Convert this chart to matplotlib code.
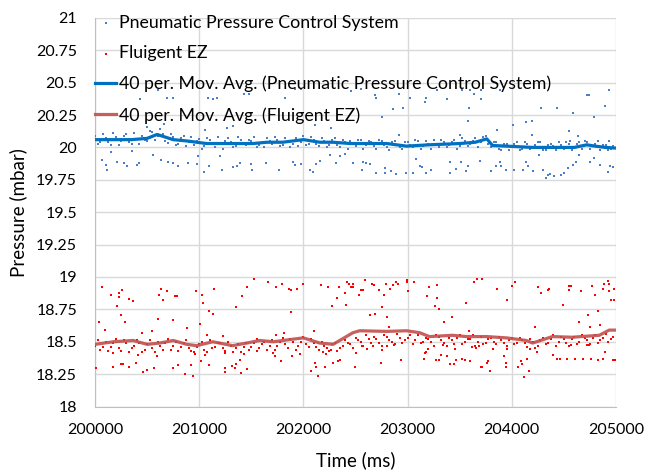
import numpy as np
import matplotlib
matplotlib.use("Agg")
import matplotlib.pyplot as plt
from matplotlib.ticker import FuncFormatter, MultipleLocator

# ---- data (time in ms, pressure in mbar) ----
# Pneumatic system: points well away from the dense band
blue_out_t = [200607, 200431, 200693, 200751, 200661, 200502, 201055, 201087, 201128, 201166,
              200064, 200102, 200118, 200150, 200208, 200281, 200304, 200358, 200400, 200422,
              200559, 200630, 200703, 200751, 200799, 200895, 200975, 200991, 201048, 201096,
              201198, 201428, 201479, 201821, 201917, 201981, 201262, 201326, 202109, 202269,
              202460, 201214, 201326, 201358, 201390, 201492, 201502, 201639, 201767, 201895,
              201917, 201981, 202061, 202093, 202125, 202157, 202253, 202317, 202349, 202397,
              202557, 202685, 202701, 202918, 202860, 202956, 202758, 203020, 203174, 203164,
              203282, 203378, 203525, 203596, 203634, 203589, 203580, 203500, 202918, 202477,
              202573, 202598, 202637, 202566, 202694, 202781, 202781, 202845, 202892, 202982,
              203052, 203084, 203116, 203142, 203180, 203228, 203404, 203404, 203468, 203516,
              203564, 203580, 203691, 203707, 203883, 203707, 204282, 204432, 204592, 204720,
              204746, 204931, 204899, 204794, 204011, 204138, 204196, 203857, 204196, 204554,
              204634, 204560, 204931, 203844, 203883, 203899, 203803, 203940, 204017, 204138,
              204154, 204106, 204202, 204260, 204298, 204346, 204369, 204330, 204410, 204474,
              204506, 204538, 204586, 204618, 204650, 204752, 204794, 204848, 204921, 204944,
              204976]
blue_out_p = [20.442, 20.370, 20.378, 20.383, 20.184, 20.159, 20.138, 20.378, 20.370, 20.378,
              19.906, 19.868, 19.824, 19.963, 19.888, 19.880, 19.855, 19.976, 19.868, 19.880,
              19.945, 19.901, 19.888, 19.880, 19.855, 19.880, 19.873, 19.932, 19.808, 19.855,
              19.932, 20.414, 20.414, 20.383, 20.452, 20.452, 20.151, 20.164, 20.171, 20.151,
              20.434, 19.829, 19.847, 19.855, 19.880, 19.873, 19.829, 19.880, 19.829, 19.888,
              19.868, 19.873, 19.829, 19.808, 19.873, 19.893, 19.945, 19.880, 19.932, 19.950,
              20.452, 20.408, 20.378, 20.416, 20.293, 20.305, 20.233, 20.378, 20.378, 20.352,
              20.442, 20.370, 20.442, 20.442, 20.416, 20.305, 20.202, 20.099, 20.099, 19.880,
              19.888, 19.880, 19.873, 19.829, 19.803, 19.842, 19.803, 19.816, 19.795, 19.803,
              19.803, 19.914, 19.855, 19.847, 19.803, 19.829, 19.888, 19.803, 19.837, 19.888,
              19.816, 19.855, 19.893, 20.447, 20.447, 20.370, 20.305, 20.305, 20.267, 20.403,
              20.403, 20.447, 20.318, 20.233, 20.171, 20.197, 20.207, 20.138, 20.094, 20.130,
              20.086, 20.053, 20.053, 19.855, 19.888, 19.855, 19.816, 19.829, 19.829, 19.888,
              19.855, 19.829, 19.816, 19.945, 19.829, 19.790, 19.795, 19.764, 19.782, 19.785,
              19.803, 19.842, 19.862, 19.888, 19.945, 19.888, 19.919, 19.862, 19.811, 19.855,
              19.847]

# Fluigent EZ: points well away from the dense band
red_out_t = [200064, 200150, 200230, 200230, 200262, 200329, 200368, 200214, 200246, 200288,
             200038, 200096, 200633, 200614, 200687, 200649, 200767, 200783, 200601, 200751,
             200454, 200550, 200968, 201023, 201039, 201096, 201128, 201144, 201007, 200885,
             201077, 200006, 200176, 200246, 200272, 200326, 200393, 200463, 200495, 200569,
             200751, 200799, 200863, 200917, 200937, 201013, 201093, 200415, 200176, 200591,
             200959, 201055,
             201524, 201661, 201796, 201735, 201454, 201406, 201860, 201879, 201940, 201997,
             202173, 202237, 202342, 202419, 202435, 202460, 202397, 202323, 202275, 202413,
             201351, 201885, 201230, 201815, 201735, 202102, 201246, 201246, 201246, 201310,
             201348, 201342, 201390, 201396, 201460, 201431, 201550, 201710, 201780, 201726,
             201892, 201965, 202071, 202109, 202125, 202141, 202205, 202189, 202221, 202285,
             202333, 202355, 202269,
             202471, 202477, 202595, 202557, 202573, 202659, 202678, 202534, 202726, 202774,
             202790, 202835, 202860, 202892, 202908, 202995, 202995, 203062, 203008, 203202,
             203282, 203190, 203286, 203260, 203298, 202755, 202643, 202685, 202806, 202819,
             203346, 203426, 203557, 203634, 203666, 203714, 203586, 202493, 202509, 202563,
             202611, 202669, 202749, 202758, 202803, 202867, 202940, 203164, 203180, 203154,
             203196, 203270, 203302, 203324, 203378, 203340, 203410, 203445, 203468, 203458,
             203522, 203548, 203596, 203618, 203653, 203682, 203707,
             203713, 203857, 203999, 204033, 203953, 204250, 204282, 204352, 204362, 204496,
             204554, 204570, 204554, 204666, 204768, 204803, 204874, 204890, 204921, 204937,
             204931, 204953, 204985, 204985, 204832, 204730, 204650, 204755, 204848, 204225,
             203713, 203761, 203771, 203793, 203819, 203921, 203940, 203940, 203956, 204059,
             204091, 204100, 204148, 204164, 204116, 204177, 204241, 204394, 204432, 204464,
             204528, 204570, 204611, 204682, 204720, 204762, 204832, 204880, 204899, 204969,
             204995, 204746]
red_out_p = [18.922, 18.863, 18.876, 18.845, 18.897, 18.830, 18.817, 18.773, 18.703, 18.652,
             18.652, 18.590, 18.910, 18.863, 18.889, 18.825, 18.850, 18.850, 18.678, 18.665,
             18.567, 18.580, 18.894, 18.863, 18.799, 18.739, 18.714, 18.910, 18.639, 18.606,
             18.554, 18.296, 18.309, 18.327, 18.330, 18.309, 18.335, 18.263, 18.284, 18.296,
             18.296, 18.322, 18.250, 18.322, 18.237, 18.348, 18.322, 18.400, 18.412, 18.394,
             18.407, 18.400,
             18.987, 18.958, 18.948, 18.922, 18.922, 18.850, 18.910, 18.897, 18.910, 18.948,
             18.935, 18.922, 18.922, 18.958, 18.948, 18.922, 18.876, 18.837, 18.773, 18.786,
             18.765, 18.727, 18.541, 18.567, 18.549, 18.580, 18.412, 18.296, 18.266, 18.314,
             18.330, 18.296, 18.361, 18.258, 18.289, 18.407, 18.430, 18.412, 18.348, 18.387,
             18.387, 18.407, 18.276, 18.335, 18.309, 18.237, 18.309, 18.420, 18.405, 18.335,
             18.348, 18.361, 18.438,
             18.922, 18.948, 18.974, 18.897, 18.897, 18.948, 18.935, 18.863, 18.897, 18.863,
             18.948, 18.910, 18.935, 18.961, 18.948, 18.974, 18.961, 18.958, 18.889, 18.922,
             18.935, 18.850, 18.837, 18.773, 18.752, 18.765, 18.703, 18.714, 18.691, 18.613,
             18.652, 18.691, 18.799, 18.961, 18.984, 18.984, 18.580, 18.309, 18.412, 18.464,
             18.446, 18.464, 18.335, 18.433, 18.464, 18.472, 18.361, 18.412, 18.420, 18.369,
             18.446, 18.361, 18.361, 18.400, 18.387, 18.472, 18.327, 18.327, 18.361, 18.446,
             18.369, 18.361, 18.353, 18.459, 18.451, 18.464, 18.309,
             18.984, 18.910, 18.933, 18.958, 18.825, 18.922, 18.876, 18.897, 18.910, 18.786,
             18.933, 18.933, 18.897, 18.889, 18.933, 18.863, 18.910, 18.946, 18.971, 18.948,
             18.889, 18.825, 18.825, 18.910, 18.739, 18.703, 18.652, 18.613, 18.626, 18.613,
             18.309, 18.335, 18.348, 18.271, 18.446, 18.387, 18.335, 18.309, 18.446, 18.309,
             18.348, 18.327, 18.369, 18.276, 18.227, 18.446, 18.420, 18.400, 18.369, 18.369,
             18.369, 18.472, 18.369, 18.369, 18.472, 18.369, 18.361, 18.369, 18.420, 18.361,
             18.361, 18.477]

# dense band samples, two interleaved sets
band_t = [200000, 200050, 200100, 200150, 200200, 200250, 200300, 200350, 200400, 200450,
          200500, 200550, 200600, 200650, 200700, 200750, 200800, 200850, 200900, 200950,
          201000, 201050, 201100, 201150, 201200, 201250, 201300, 201350, 201400, 201450,
          201500, 201550, 201600, 201650, 201700, 201750, 201800, 201850, 201900, 201950,
          202000, 202050, 202100, 202150, 202200, 202250, 202300, 202350, 202400, 202450,
          202500, 202550, 202600, 202650, 202700, 202750, 202800, 202850, 202900, 202950,
          203000, 203050, 203100, 203150, 203200, 203250, 203300, 203350, 203400, 203450,
          203500, 203550, 203600, 203650, 203700, 203750, 203800, 203850, 203900, 203950,
          204000, 204050, 204100, 204150, 204200, 204250, 204300, 204350, 204400, 204450,
          204500, 204550, 204600, 204650, 204700, 204750, 204800, 204850, 204900, 204950]
band2_t = [200025, 200075, 200125, 200175, 200225, 200275, 200325, 200375, 200425, 200475,
           200525, 200575, 200625, 200675, 200725, 200775, 200825, 200875, 200925, 200975,
           201025, 201075, 201125, 201175, 201225, 201275, 201325, 201375, 201425, 201475,
           201525, 201575, 201625, 201675, 201725, 201775, 201825, 201875, 201925, 201975,
           202025, 202075, 202125, 202175, 202225, 202275, 202325, 202375, 202425, 202475,
           202525, 202575, 202625, 202675, 202725, 202775, 202825, 202875, 202925, 202975,
           203025, 203075, 203125, 203175, 203225, 203275, 203325, 203375, 203425, 203475,
           203525, 203575, 203625, 203675, 203725, 203775, 203825, 203875, 203925, 203975,
           204025, 204075, 204125, 204175, 204225, 204275, 204325, 204375, 204425, 204475,
           204525, 204575, 204625, 204675, 204725, 204775, 204825, 204875, 204925, 204975]
blue_band_p = [20.09, 20.04, 20.07, 20.02, 20.08, 20.05, 20.10, 20.03, 20.065, 20.09,
               20.05, 20.12, 20.09, 20.10, 20.035, 20.08, 20.025, 20.09, 20.045, 20.02,
               20.065, 20.01, 20.06, 20.00, 20.03, 20.05, 20.04, 20.01, 20.06, 20.02,
               20.05, 20.00, 20.04, 20.07, 20.03, 20.06, 20.02, 20.05, 20.03, 20.01,
               20.09, 20.03, 20.06, 20.01, 20.05, 20.02, 20.07, 20.00, 20.04, 20.05,
               20.01, 20.06, 20.02, 20.04, 19.99, 20.05, 20.00, 20.04, 20.02, 19.99,
               20.04, 20.00, 20.05, 20.01, 20.03, 20.06, 20.00, 20.04, 20.02, 20.06,
               20.01, 20.05, 20.03, 20.07, 20.04, 20.09, 20.00, 20.04, 19.98, 20.03,
               20.01, 20.04, 19.99, 20.03, 20.00, 20.04, 19.98, 20.02, 20.01, 20.04,
               19.99, 20.03, 20.00, 20.04, 20.05, 19.99, 20.03, 19.98, 20.02, 19.99]
blue_band2_p = [20.03, 20.10, 20.04, 20.11, 20.02, 20.09, 20.04, 20.11, 20.03, 20.06,
                20.13, 20.06, 20.14, 20.05, 20.10, 20.02, 20.07, 20.01, 20.08, 20.05,
                19.99, 20.07, 20.03, 20.08, 19.99, 20.07, 20.00, 20.08, 20.03, 20.06,
                20.08, 20.02, 20.00, 20.05, 20.08, 20.01, 20.07, 20.00, 20.07, 20.04,
                20.02, 20.08, 20.03, 20.07, 20.00, 20.06, 20.02, 20.06, 19.99, 20.03,
                20.06, 19.99, 20.05, 20.01, 20.06, 20.02, 19.98, 20.05, 20.00, 20.04,
                20.02, 20.06, 19.99, 20.05, 19.99, 20.03, 20.06, 20.00, 20.04, 19.99,
                20.07, 20.01, 20.05, 20.00, 20.08, 20.03, 20.04, 19.99, 20.03, 19.98,
                20.03, 19.98, 20.04, 19.99, 20.02, 20.04, 19.98, 20.03, 19.98, 20.02,
                20.04, 19.98, 20.03, 19.99, 20.04, 20.01, 20.05, 20.02, 19.98, 20.01]
red_band_p = [18.47, 18.44, 18.50, 18.46, 18.52, 18.43, 18.49, 18.45, 18.51, 18.42,
              18.48, 18.45, 18.50, 18.44, 18.52, 18.47, 18.43, 18.49, 18.45, 18.42,
              18.48, 18.44, 18.51, 18.46, 18.49, 18.43, 18.47, 18.45, 18.42, 18.49,
              18.46, 18.52, 18.48, 18.44, 18.51, 18.47, 18.53, 18.45, 18.50, 18.47,
              18.54, 18.46, 18.49, 18.44, 18.47, 18.43, 18.49, 18.45, 18.51, 18.48,
              18.53, 18.50, 18.55, 18.49, 18.52, 18.47, 18.54, 18.50, 18.56, 18.49,
              18.53, 18.48, 18.55, 18.50, 18.52, 18.47, 18.54, 18.49, 18.53, 18.48,
              18.55, 18.50, 18.52, 18.47, 18.54, 18.49, 18.53, 18.48, 18.51, 18.47,
              18.53, 18.49, 18.51, 18.46, 18.50, 18.47, 18.53, 18.49, 18.55, 18.50,
              18.52, 18.47, 18.54, 18.50, 18.53, 18.48, 18.55, 18.51, 18.56, 18.52]
red_band2_p = [18.51, 18.46, 18.43, 18.49, 18.45, 18.51, 18.42, 18.47, 18.49, 18.44,
               18.51, 18.42, 18.47, 18.49, 18.44, 18.50, 18.46, 18.51, 18.43, 18.46,
               18.50, 18.42, 18.45, 18.49, 18.45, 18.50, 18.42, 18.48, 18.46, 18.44,
               18.49, 18.45, 18.50, 18.47, 18.44, 18.50, 18.48, 18.52, 18.44, 18.50,
               18.48, 18.52, 18.46, 18.50, 18.45, 18.48, 18.43, 18.47, 18.49, 18.45,
               18.51, 18.47, 18.52, 18.54, 18.49, 18.55, 18.51, 18.48, 18.53, 18.51,
               18.55, 18.51, 18.49, 18.53, 18.50, 18.55, 18.51, 18.47, 18.51, 18.53,
               18.48, 18.52, 18.55, 18.50, 18.48, 18.52, 18.50, 18.54, 18.49, 18.51,
               18.48, 18.53, 18.49, 18.52, 18.45, 18.51, 18.48, 18.52, 18.47, 18.54,
               18.49, 18.52, 18.48, 18.55, 18.51, 18.53, 18.49, 18.53, 18.50, 18.54]

# 40 period moving averages
blue_ma_t = [200000, 200175, 200350, 200500, 200595, 200750, 200880, 201070, 201320, 201515,
             201650, 201800, 202000, 202157, 202285, 202450, 202650, 202800, 202990, 203200,
             203500, 203650, 203760, 203815, 203950, 204200, 204450, 204600, 204720, 204800,
             204900, 205000]
blue_ma_p = [20.06, 20.06, 20.06, 20.07, 20.10, 20.06, 20.05, 20.03, 20.03, 20.03,
             20.04, 20.04, 20.06, 20.04, 20.04, 20.03, 20.03, 20.03, 20.01, 20.02,
             20.03, 20.04, 20.066, 20.015, 20.01, 20.00, 20.00, 20.00, 20.02, 20.01,
             20.00, 19.995]
red_ma_t = [200000, 200175, 200365, 200500, 200620, 200750, 200880, 200975, 201130, 201320,
            201455, 201580, 201710, 201900, 202000, 202157, 202285, 202475, 202540, 202800,
            202990, 203115, 203210, 203430, 203565, 203760, 203950, 204140, 204200, 204390,
            204580, 204840, 204935, 205000]
red_ma_p = [18.48, 18.50, 18.51, 18.48, 18.49, 18.51, 18.48, 18.47, 18.50, 18.47,
            18.49, 18.51, 18.50, 18.52, 18.53, 18.49, 18.48, 18.57, 18.585, 18.58,
            18.585, 18.57, 18.54, 18.55, 18.54, 18.54, 18.53, 18.51, 18.49, 18.54,
            18.535, 18.55, 18.59, 18.59]

labels = ["Pneumatic Pressure Control System", "Fluigent EZ",
          "40 per. Mov. Avg. (Pneumatic Pressure Control System)",
          "40 per. Mov. Avg. (Fluigent EZ)"]

plt.rcParams['font.family'] = ['Lato', 'DejaVu Sans']

fig = plt.figure(figsize=(6.47, 4.70), dpi=100)
ax = fig.add_axes([0.147, 0.135, 0.805, 0.827])

blue_dot = "#4a7fc8"
red_dot = "#ff0000"
ax.scatter(blue_out_t + band_t + band2_t, blue_out_p + blue_band_p + blue_band2_p,
           s=3.5, marker="s", color=blue_dot, linewidths=0, label=labels[0], zorder=3)
ax.scatter(red_out_t + band_t + band2_t, red_out_p + red_band_p + red_band2_p,
           s=3.5, marker="s", color=red_dot, linewidths=0, label=labels[1], zorder=3)
ax.plot(blue_ma_t, blue_ma_p, color="#0070c0", lw=2.3, label=labels[2], zorder=4)
ax.plot(red_ma_t, red_ma_p, color="#c0504d", lw=2.3, alpha=0.9, label=labels[3], zorder=4)

ax.set_xlim(200000, 205000)
ax.set_ylim(18, 21)
ax.xaxis.set_major_locator(MultipleLocator(1000))
ax.yaxis.set_major_locator(MultipleLocator(0.25))
ax.yaxis.set_major_formatter(FuncFormatter(lambda v, _: f"{v:g}"))
ax.grid(True, color="#d9d9d9", lw=1)
ax.set_axisbelow(True)
for s in ["top", "right"]:
    ax.spines[s].set_visible(False)
for s in ["left", "bottom"]:
    ax.spines[s].set_color("#bfbfbf")
ax.tick_params(axis="y", length=0, labelsize=11.5, pad=13)
ax.tick_params(axis="x", length=0, labelsize=11.5, pad=12)
ax.set_xlabel("Time (ms)", fontsize=13.5, labelpad=10)
ax.set_ylabel("Pressure (mbar)", fontsize=13.5, labelpad=6)

leg = ax.legend(loc="upper left", bbox_to_anchor=(0.0, 1.008), frameon=False,
                fontsize=12.8, labelspacing=0.82, handlelength=1.2, handletextpad=0.15,
                markerscale=1.0, borderaxespad=0, borderpad=0)

fig.savefig("out.png", dpi=100)
